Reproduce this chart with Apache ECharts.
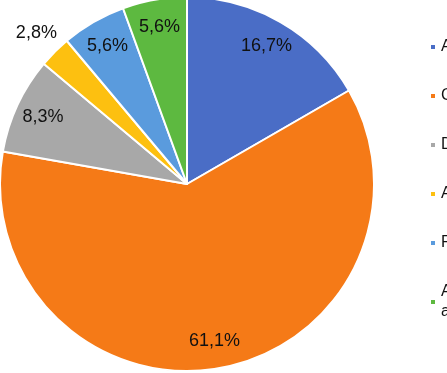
<!DOCTYPE html>
<html>
<head>
<meta charset="UTF-8">
<title>pie</title>
<script src="https://cdn.jsdelivr.net/npm/echarts@6/dist/echarts.min.js"></script>
<style>
  html, body { margin: 0; padding: 0; background: #fff; overflow: hidden; }
  /* the legend runs past the right edge of the window, as in the cropped original */
  #chart { width: 640px; height: 373px; }
</style>
</head>
<body>
<div id="chart"></div>
<script>
// categories (clockwise from 12 o'clock) and their counts
var names = ['Atendimento', 'Consulta', 'Diagnóstico', 'Acompanhamento', 'Retorno', 'Alta\nadministrativa'];
var counts = [6, 22, 3, 1, 2, 2];
var colors = ['#4A6DC6', '#F57A17', '#A8A8A8', '#FDC010', '#5A9BDD', '#5DB940'];

var total = counts.reduce(function (a, b) { return a + b; }, 0);

var pieData = names.map(function (n, i) {
    return { name: n, value: counts[i], itemStyle: { color: colors[i] } };
});

function pct(p) {
    return (p.value / total * 100).toFixed(1).replace('.', ',') + '%';
}

var labelFont = {
    fontSize: 18,
    color: '#111',
    fontFamily: 'Liberation Sans, Arial, sans-serif'
};

var chart = echarts.init(document.getElementById('chart'));
var option = {
    animation: false,
    legend: {
        orient: 'vertical',
        left: 429,
        top: 37,
        padding: 0,
        icon: 'rect',
        itemWidth: 6,
        itemHeight: 6,
        itemGap: 29,
        data: names,
        textStyle: {
            fontSize: 16,
            lineHeight: 20,
            color: '#111',
            fontFamily: 'Liberation Sans, Arial, sans-serif'
        }
    },
    series: [
        {
            // the visible pie
            type: 'pie',
            center: [187, 184],
            radius: [0, 187],
            startAngle: 90,
            data: pieData,
            itemStyle: { borderColor: '#fff', borderWidth: 2 },
            label: { show: false },
            labelLine: { show: false },
            silent: true
        },
        {
            // transparent copy, only carries the inner percentage labels
            type: 'pie',
            center: [187, 184],
            radius: [0, 312],
            startAngle: 90,
            data: pieData.map(function (d, i) {
                return { name: d.name, value: d.value, label: { show: i !== 3 } };
            }),
            itemStyle: { color: 'transparent' },
            label: Object.assign({ position: 'inside', formatter: pct }, labelFont),
            labelLine: { show: false },
            silent: true,
            legendHoverLink: false
        },
        {
            // label of the small slice sits outside the pie
            type: 'pie',
            center: [187, 184],
            radius: [0, 420],
            startAngle: 90,
            data: pieData.map(function (d, i) {
                return { name: d.name, value: d.value, label: { show: i === 3 } };
            }),
            itemStyle: { color: 'transparent' },
            label: Object.assign({ position: 'inside', formatter: pct }, labelFont),
            labelLine: { show: false },
            silent: true,
            legendHoverLink: false
        }
    ]
};
chart.setOption(option);
</script>
</body>
</html>
